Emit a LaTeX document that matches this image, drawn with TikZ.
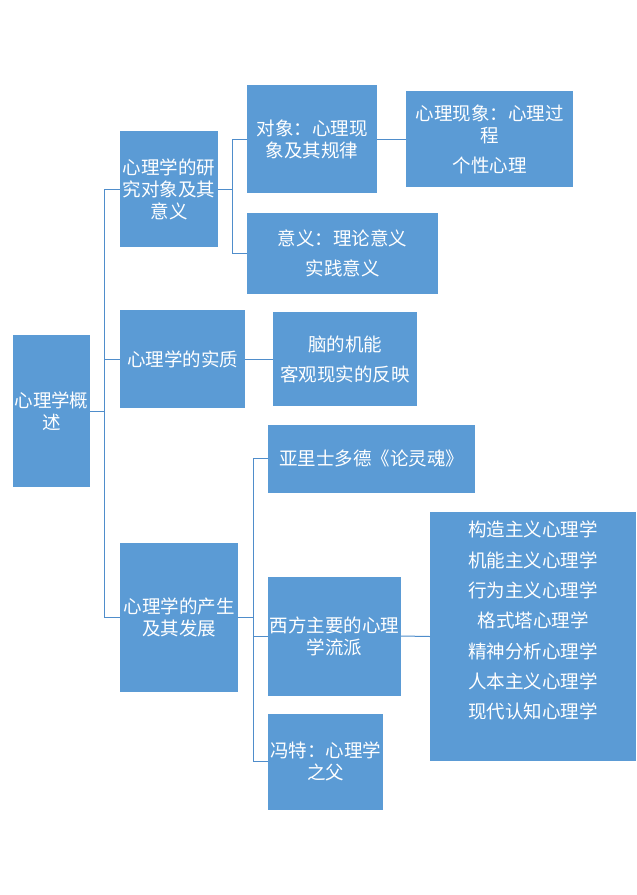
\documentclass[tikz,border=0pt]{standalone}
\usepackage{fontspec}
\newfontfamily\cjk{Noto Sans CJK SC}
\definecolor{boxblue}{HTML}{5B9BD5}
\definecolor{lineblue}{HTML}{4F8DCB}
\begin{document}
\begin{tikzpicture}[x=1pt,y=-1pt,
  box/.style={fill=boxblue,draw=none,inner sep=0pt,text=white,align=center,
    font=\cjk\fontsize{18.5}{22}\selectfont},
  conn/.style={draw=lineblue,line width=1pt}]
\useasboundingbox (0,0) rectangle (637,895);
% boxes: center (x,y), width, height
\node[box,minimum width=77,minimum height=152] (A) at (51.5,411) {心理学概\\述};
\node[box,minimum width=98,minimum height=116] (B1) at (169,189) {心理学的研\\究对象及其\\意义};
\node[box,minimum width=125,minimum height=98] (B2) at (182.5,359) {心理学的实质};
\node[box,minimum width=118,minimum height=149] (B3) at (179,617.5) {心理学的产生\\及其发展};
\node[box,minimum width=130,minimum height=108] (C1) at (312,139) {对象：心理现\\象及其规律};
\node[box,minimum width=167,minimum height=96] (D1) at (489.5,139) {心理现象：心理过\\程\\[8pt]个性心理};
\node[box,minimum width=191,minimum height=81] (C2) at (342.5,253) {意义：理论意义\\[8pt]实践意义};
\node[box,minimum width=144,minimum height=94] (C3) at (345,359) {脑的机能\\[8pt]客观现实的反映};
\node[box,minimum width=207,minimum height=68] (C4) at (371.5,458.5) {亚里士多德《论灵魂》};
\node[box,minimum width=133,minimum height=119] (C5) at (334.5,636) {西方主要的心理\\学流派};
\node[box,minimum width=115,minimum height=96] (C6) at (325.5,761.5) {冯特：心理学\\之父};
\node[box,minimum width=206,minimum height=249] (D2) at (533,636.5) {};
\node[box,anchor=north,align=center] (D2t) at (533,521) {构造主义心理学\\[8.3pt]机能主义心理学\\[8.3pt]行为主义心理学\\[8.3pt]格式塔心理学\\[8.3pt]精神分析心理学\\[8.3pt]人本主义心理学\\[8.3pt]现代认知心理学};
% connectors
\draw[conn] (A.east) -- ++(14,0) coordinate (t1);
\draw[conn] (t1) |- (B1.west);
\draw[conn] (t1) |- (B2.west);
\draw[conn] (t1) |- (B3.west);
\draw[conn] (B1.east) -- ++(14,0) coordinate (t2);
\draw[conn] (t2) |- (C1.west);
\draw[conn] (t2) |- (C2.west);
\draw[conn] (C1.east) -- (D1.west);
\draw[conn] (B2.east) -- (C3.west);
\draw[conn] (B3.east) -- ++(15,0) coordinate (t3);
\draw[conn] (t3) |- (C4.west);
\draw[conn] (t3) |- (C5.west);
\draw[conn] (t3) |- (C6.west);
\draw[conn] (C5.east) -- (D2.west);
\end{tikzpicture}
\end{document}
